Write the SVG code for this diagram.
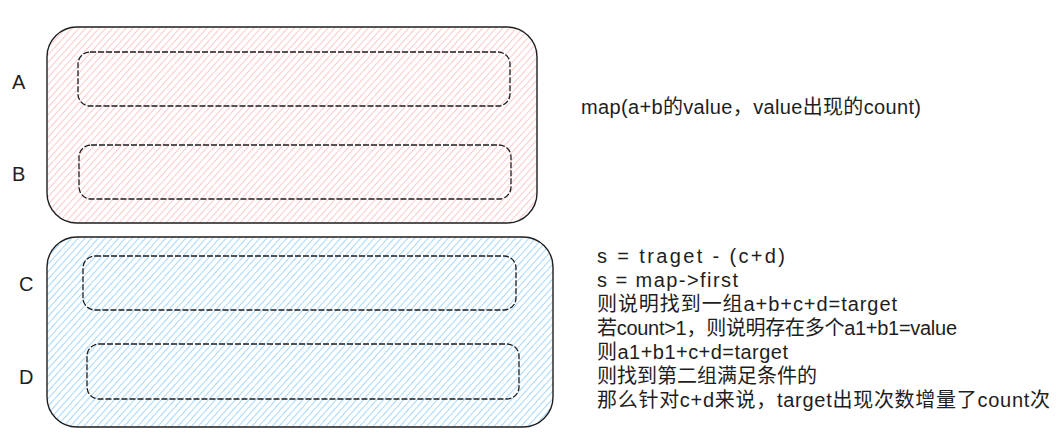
<svg xmlns="http://www.w3.org/2000/svg" width="1060" height="439" viewBox="0 0 1060 439">
  <defs>
    <pattern id="hatchPink" patternUnits="userSpaceOnUse" width="5" height="5" patternTransform="rotate(-48)">
      <line x1="0" y1="2.5" x2="5" y2="2.5" stroke="#ffc9c9" stroke-width="1"/>
    </pattern>
    <pattern id="hatchBlue" patternUnits="userSpaceOnUse" width="5" height="5" patternTransform="rotate(-48)">
      <line x1="0" y1="2.5" x2="5" y2="2.5" stroke="#a5d8ff" stroke-width="1"/>
    </pattern>
  </defs>
  <style>
    .outer { stroke: #1e1e1e; stroke-width: 1.4; }
    .inner { fill: none; stroke: #1e1e1e; stroke-width: 1.3; stroke-dasharray: 6 2; }
    .lbl { font-family: "Liberation Sans", "Noto Sans CJK SC", sans-serif; font-size: 20px; fill: #1e1e1e; }
    .txt { font-family: "Liberation Sans", "Noto Sans CJK SC", sans-serif; font-size: 20px; fill: #1e1e1e; }
  </style>
  <rect width="1060" height="439" fill="#ffffff"/>

  <g id="groupAB">
    <rect class="outer" x="47" y="27" width="490" height="196" rx="30" fill="url(#hatchPink)"/>
  </g>
  <g id="nodeA">
    <rect class="inner" x="78" y="52" width="432" height="54" rx="12"/>
    <text class="lbl" x="12" y="89">A</text>
  </g>
  <g id="nodeB">
    <rect class="inner" x="79" y="145" width="432" height="54" rx="12"/>
    <text class="lbl" x="12" y="181">B</text>
  </g>

  <g id="groupCD">
    <rect class="outer" x="47" y="237" width="506" height="190" rx="30" fill="url(#hatchBlue)"/>
  </g>
  <g id="nodeC">
    <rect class="inner" x="83" y="256" width="433" height="54" rx="12"/>
    <text class="lbl" x="19" y="291">C</text>
  </g>
  <g id="nodeD">
    <rect class="inner" x="87" y="344" width="432" height="55" rx="12"/>
    <text class="lbl" x="19" y="384">D</text>
  </g>

  <g id="noteMap">
    <text class="txt" x="581" y="114" textLength="340" lengthAdjust="spacing">map(a+b的value，value出现的count)</text>
  </g>
  <g id="noteExplain">
    <text class="txt" x="597" y="263" textLength="188" lengthAdjust="spacing">s = traget - (c+d)</text>
    <text class="txt" x="597" y="287" textLength="141" lengthAdjust="spacing">s = map-&gt;first</text>
    <text class="txt" x="597" y="311" textLength="300" lengthAdjust="spacing">则说明找到一组a+b+c+d=target</text>
    <text class="txt" x="597" y="335" textLength="360" lengthAdjust="spacing">若count&gt;1，则说明存在多个a1+b1=value</text>
    <text class="txt" x="597" y="359" textLength="191" lengthAdjust="spacing">则a1+b1+c+d=target</text>
    <text class="txt" x="597" y="383" textLength="220" lengthAdjust="spacing">则找到第二组满足条件的</text>
    <text class="txt" x="597" y="407" textLength="453" lengthAdjust="spacing">那么针对c+d来说，target出现次数增量了count次</text>
  </g>
</svg>
